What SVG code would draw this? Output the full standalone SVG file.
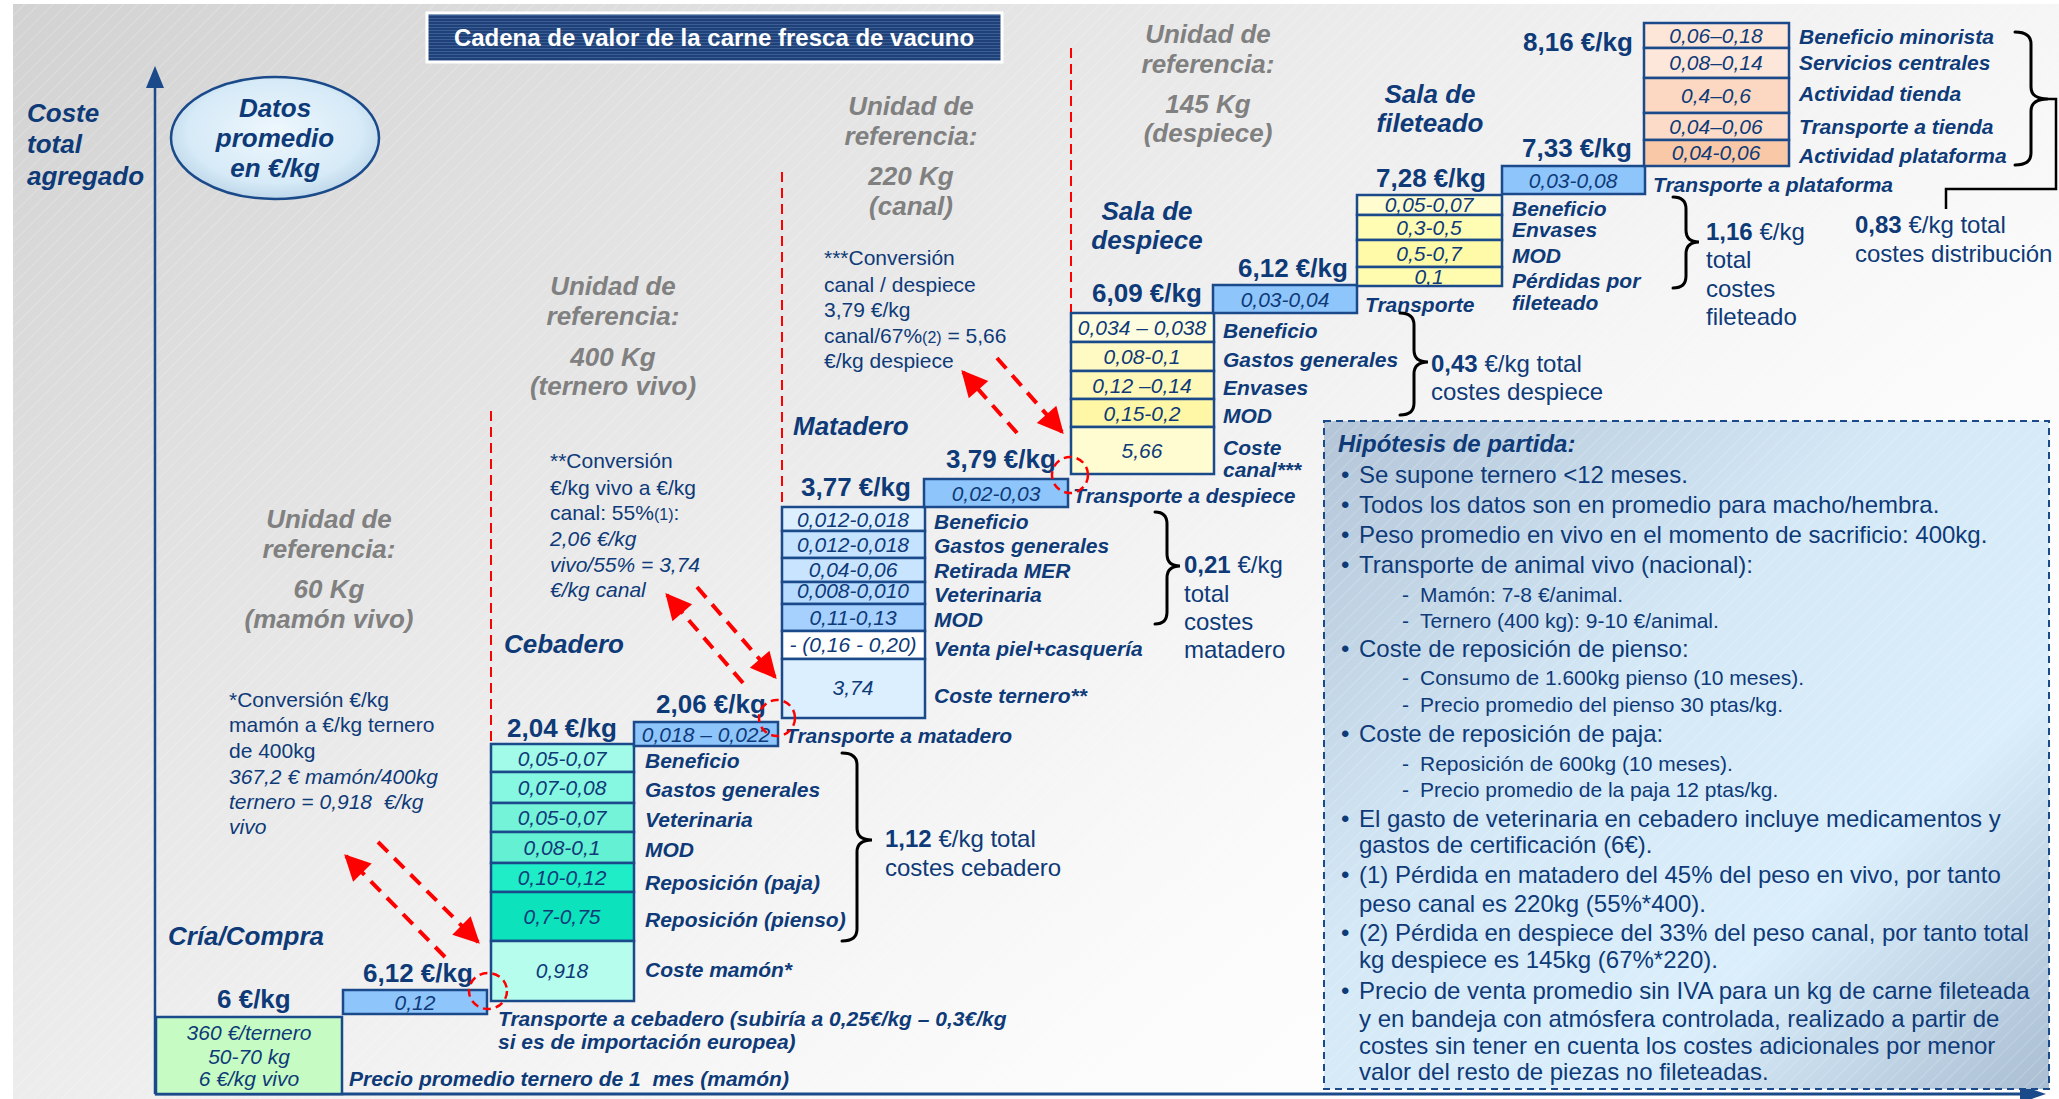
<svg xmlns="http://www.w3.org/2000/svg" width="2059" height="1099" viewBox="0 0 2059 1099">
<defs>
<linearGradient id="bg" x1="0" y1="0" x2="1" y2="0.7">
<stop offset="0" stop-color="#d2d2d2"/>
<stop offset="0.5" stop-color="#eeeeee"/>
<stop offset="0.8" stop-color="#fbfbfb"/>
<stop offset="1" stop-color="#ffffff"/>
</linearGradient>
<linearGradient id="hypfill" x1="0" y1="0" x2="1" y2="1">
<stop offset="0" stop-color="#b3c5d7"/>
<stop offset="0.4" stop-color="#d4e8f6"/>
<stop offset="0.7" stop-color="#daeefb"/>
<stop offset="1" stop-color="#a9bed2"/>
</linearGradient>
<radialGradient id="ellfill" cx="0.5" cy="0.45" r="0.6">
<stop offset="0" stop-color="#eef7fd"/>
<stop offset="0.7" stop-color="#d6eaf7"/>
<stop offset="1" stop-color="#b5d0e4"/>
</radialGradient>
<pattern id="hatch" width="10" height="10" patternUnits="userSpaceOnUse" patternTransform="rotate(45)">
<line x1="0" y1="0" x2="0" y2="10" stroke="#ffffff" stroke-width="1" stroke-opacity="0.4"/>
</pattern>
<pattern id="tlines" width="4" height="3" patternUnits="userSpaceOnUse">
<rect width="4" height="3" fill="#1f4177"/>
<line x1="0" y1="0.5" x2="4" y2="0.5" stroke="#3a5f96" stroke-width="1"/>
</pattern>
<marker id="rh" viewBox="0 0 10 10" refX="9" refY="5" markerWidth="7.5" markerHeight="6.5" orient="auto" markerUnits="strokeWidth">
<path d="M0,0 L10,5 L0,10 z" fill="#ff0000"/>
</marker>
<style>
.t{font-family:"Liberation Sans",Arial,sans-serif;fill:#0e3a78}
.sec{font-size:26px;font-weight:bold;font-style:italic}
.gray{font-size:26px;font-weight:bold;font-style:italic;fill:#808080;text-anchor:middle}
.price{font-size:26px;font-weight:bold}
.lab{font-size:21px;font-weight:bold;font-style:italic}
.val{font-size:21px;font-style:italic;text-anchor:middle}
.note{font-size:21px}
.tot{font-size:24px}
.hyp{font-size:24px}
.sub{font-size:21px}
.box{stroke:#1a4a8a;stroke-width:2.5}
.tr{fill:#8ec5fb}
.rdl{stroke:#ff0000;stroke-width:2;stroke-dasharray:10 6;fill:none}
.rarr{stroke:#ff0000;stroke-width:4;stroke-dasharray:14 9;fill:none;marker-end:url(#rh)}
.rell{stroke:#ff0000;stroke-width:2.5;stroke-dasharray:8 5;fill:none}
.brace{stroke:#000000;stroke-width:3;fill:none;stroke-linecap:round}
.axis{stroke:#1a4a8a;stroke-width:2.5;fill:none}
</style>
</defs>

<!-- background -->
<rect x="0" y="0" width="2059" height="1099" fill="#ffffff"/>
<rect x="13" y="4" width="2046" height="1095" fill="url(#bg)"/>
<rect x="13" y="4" width="2046" height="1095" fill="url(#hatch)"/>

<!-- title -->
<g id="title">
<rect x="427" y="13" width="575" height="49" fill="url(#tlines)" stroke="#ffffff" stroke-width="3"/>
<text x="714" y="46" text-anchor="middle" style="font-family:'Liberation Sans',Arial,sans-serif;font-size:24px;font-weight:bold;fill:#ffffff">Cadena de valor de la carne fresca de vacuno</text>
</g>

<!-- axes -->
<g id="axes">
<line class="axis" x1="155" y1="1094" x2="155" y2="82"/>
<polygon points="155,66 146,88 164,88" fill="#1a4a8a"/>
<line x1="155" y1="1094" x2="2024" y2="1094" stroke="#1a4a8a" stroke-width="3"/>
<polygon points="2046,1094 2020,1085 2020,1103" fill="#1a4a8a"/>
</g>

<g id="axis-label">
<text class="t sec" x="27" y="122">Coste</text>
<text class="t sec" x="27" y="153">total</text>
<text class="t sec" x="27" y="185">agregado</text>
</g>

<g id="datos-promedio">
<ellipse cx="275" cy="138" rx="104" ry="61" fill="url(#ellfill)" stroke="#1a4a8a" stroke-width="2.5"/>
<text class="t sec" x="275" y="117" text-anchor="middle">Datos</text>
<text class="t sec" x="275" y="147" text-anchor="middle">promedio</text>
<text class="t sec" x="275" y="177" text-anchor="middle">en €/kg</text>
</g>

<!-- reference units -->
<g id="ref-60">
<text class="t gray" x="329" y="528">Unidad de</text>
<text class="t gray" x="329" y="558">referencia:</text>
<text class="t gray" x="329" y="598">60 Kg</text>
<text class="t gray" x="329" y="628">(mamón vivo)</text>
</g>
<g id="ref-400">
<text class="t gray" x="613" y="295">Unidad de</text>
<text class="t gray" x="613" y="325">referencia:</text>
<text class="t gray" x="613" y="366">400 Kg</text>
<text class="t gray" x="613" y="395">(ternero vivo)</text>
</g>
<g id="ref-220">
<text class="t gray" x="911" y="115">Unidad de</text>
<text class="t gray" x="911" y="145">referencia:</text>
<text class="t gray" x="911" y="185">220 Kg</text>
<text class="t gray" x="911" y="215">(canal)</text>
</g>
<g id="ref-145">
<text class="t gray" x="1208" y="43">Unidad de</text>
<text class="t gray" x="1208" y="73">referencia:</text>
<text class="t gray" x="1208" y="113">145 Kg</text>
<text class="t gray" x="1208" y="142">(despiece)</text>
</g>

<!-- conversion notes -->
<g id="note-mamon">
<text class="t note" x="229" y="707">*Conversión €/kg</text>
<text class="t note" x="229" y="732">mamón a €/kg ternero</text>
<text class="t note" x="229" y="758">de 400kg</text>
<text class="t note" x="229" y="784" font-style="italic">367,2 € mamón/400kg</text>
<text class="t note" x="229" y="809" font-style="italic">ternero = 0,918 &#160;€/kg</text>
<text class="t note" x="229" y="834" font-style="italic">vivo</text>
</g>
<g id="note-ternero">
<text class="t note" x="550" y="468">**Conversión</text>
<text class="t note" x="550" y="495">€/kg vivo a €/kg</text>
<text class="t note" x="550" y="520">canal: 55%<tspan font-size="16px">(1)</tspan>:</text>
<text class="t note" x="550" y="546" font-style="italic">2,06 €/kg</text>
<text class="t note" x="550" y="572" font-style="italic">vivo/55% = 3,74</text>
<text class="t note" x="550" y="597" font-style="italic">€/kg canal</text>
</g>
<g id="note-canal">
<text class="t note" x="824" y="265">***Conversión</text>
<text class="t note" x="824" y="292">canal / despiece</text>
<text class="t note" x="824" y="317">3,79 €/kg</text>
<text class="t note" x="824" y="343">canal/67%<tspan font-size="16px">(2)</tspan> = 5,66</text>
<text class="t note" x="824" y="368">€/kg despiece</text>
</g>

<!-- Cría/Compra -->
<g id="cria">
<text class="t sec" x="168" y="945">Cría/Compra</text>
<text class="t price" x="217" y="1008">6 €/kg</text>
<rect class="box" x="156" y="1017" width="186" height="77" fill="#c6fbc3"/>
<text class="t val" x="249" y="1040">360 €/ternero</text>
<text class="t val" x="249" y="1064">50-70 kg</text>
<text class="t val" x="249" y="1086">6 €/kg vivo</text>
<text class="t lab" x="349" y="1086">Precio promedio ternero de 1 &#160;mes (mamón)</text>
</g>

<g id="transporte-cebadero">
<text class="t price" x="363" y="982">6,12 €/kg</text>
<rect class="box tr" x="343" y="990" width="144" height="24"/>
<text class="t val" x="415" y="1010">0,12</text>
<text class="t lab" x="498" y="1026">Transporte a cebadero (subiría a 0,25€/kg – 0,3€/kg</text>
<text class="t lab" x="498" y="1049">si es de importación europea)</text>
</g>

<!-- Cebadero -->
<g id="cebadero">
<text class="t sec" x="504" y="653">Cebadero</text>
<text class="t price" x="507" y="737">2,04 €/kg</text>
<rect class="box" x="491" y="744" width="143" height="28" fill="#a2fbe8"/>
<rect class="box" x="491" y="772" width="143" height="31" fill="#86f7e0"/>
<rect class="box" x="491" y="803" width="143" height="29" fill="#74f3d9"/>
<rect class="box" x="491" y="832" width="143" height="31" fill="#64f0d3"/>
<rect class="box" x="491" y="863" width="143" height="29" fill="#1eedc7"/>
<rect class="box" x="491" y="892" width="143" height="49" fill="#0ce3bd"/>
<rect class="box" x="491" y="941" width="143" height="60" fill="#b7fdee"/>
<text class="t val" x="562" y="766">0,05-0,07</text>
<text class="t val" x="562" y="795">0,07-0,08</text>
<text class="t val" x="562" y="825">0,05-0,07</text>
<text class="t val" x="562" y="855">0,08-0,1</text>
<text class="t val" x="562" y="885">0,10-0,12</text>
<text class="t val" x="562" y="924">0,7-0,75</text>
<text class="t val" x="562" y="978">0,918</text>
<text class="t lab" x="645" y="768">Beneficio</text>
<text class="t lab" x="645" y="797">Gastos generales</text>
<text class="t lab" x="645" y="827">Veterinaria</text>
<text class="t lab" x="645" y="857">MOD</text>
<text class="t lab" x="645" y="890">Reposición (paja)</text>
<text class="t lab" x="645" y="927">Reposición (pienso)</text>
<text class="t lab" x="645" y="977">Coste mamón*</text>
<text class="t tot" x="885" y="847"><tspan font-weight="bold">1,12</tspan> €/kg total</text>
<text class="t tot" x="885" y="876">costes cebadero</text>
</g>

<g id="transporte-matadero">
<text class="t price" x="656" y="713">2,06 €/kg</text>
<rect class="box tr" x="634" y="722" width="144" height="24"/>
<text class="t val" x="706" y="742">0,018 – 0,022</text>
<text class="t lab" x="785" y="743">Transporte a matadero</text>
</g>

<!-- Matadero -->
<g id="matadero">
<text class="t sec" x="793" y="435">Matadero</text>
<text class="t price" x="801" y="496">3,77 €/kg</text>
<rect class="box" x="782" y="507" width="143" height="24" fill="#dcefff"/>
<rect class="box" x="782" y="531" width="143" height="27" fill="#c5e3ff"/>
<rect class="box" x="782" y="558" width="143" height="24" fill="#c8e4ff"/>
<rect class="box" x="782" y="582" width="143" height="22" fill="#b7daff"/>
<rect class="box" x="782" y="604" width="143" height="27" fill="#a6d1ff"/>
<rect class="box" x="782" y="631" width="143" height="28" fill="#ffffff"/>
<rect class="box" x="782" y="659" width="143" height="59" fill="#dcefff"/>
<text class="t val" x="853" y="527">0,012-0,018</text>
<text class="t val" x="853" y="552">0,012-0,018</text>
<text class="t val" x="853" y="577">0,04-0,06</text>
<text class="t val" x="853" y="598" font-size="16px">0,008-0,010</text>
<text class="t val" x="853" y="625">0,11-0,13</text>
<text class="t val" x="853" y="652">- (0,16 - 0,20)</text>
<text class="t val" x="853" y="695">3,74</text>
<text class="t lab" x="934" y="529">Beneficio</text>
<text class="t lab" x="934" y="553">Gastos generales</text>
<text class="t lab" x="934" y="578">Retirada MER</text>
<text class="t lab" x="934" y="602">Veterinaria</text>
<text class="t lab" x="934" y="627">MOD</text>
<text class="t lab" x="934" y="656">Venta piel+casquería</text>
<text class="t lab" x="934" y="703">Coste ternero**</text>
<text class="t tot" x="1184" y="573"><tspan font-weight="bold">0,21</tspan> €/kg</text>
<text class="t tot" x="1184" y="602">total</text>
<text class="t tot" x="1184" y="630">costes</text>
<text class="t tot" x="1184" y="658">matadero</text>
</g>

<g id="transporte-despiece">
<text class="t price" x="946" y="468">3,79 €/kg</text>
<rect class="box tr" x="924" y="479" width="144" height="28"/>
<text class="t val" x="996" y="501" font-style="normal">0,02-0,03</text>
<text class="t lab" x="1073" y="503">Transporte a despiece</text>
</g>

<!-- Sala de despiece -->
<g id="despiece">
<text class="t sec" x="1147" y="220" text-anchor="middle">Sala de</text>
<text class="t sec" x="1147" y="249" text-anchor="middle">despiece</text>
<text class="t price" x="1092" y="302">6,09 €/kg</text>
<rect class="box" x="1071" y="313" width="143" height="29" fill="#fffde0"/>
<rect class="box" x="1071" y="342" width="143" height="29" fill="#fffac4"/>
<rect class="box" x="1071" y="371" width="143" height="28" fill="#fff8b8"/>
<rect class="box" x="1071" y="399" width="143" height="28" fill="#fff7a6"/>
<rect class="box" x="1071" y="427" width="143" height="47" fill="#fffcd2"/>
<text class="t val" x="1142" y="335">0,034 – 0,038</text>
<text class="t val" x="1142" y="364">0,08-0,1</text>
<text class="t val" x="1142" y="393">0,12 –0,14</text>
<text class="t val" x="1142" y="421">0,15-0,2</text>
<text class="t val" x="1142" y="458">5,66</text>
<text class="t lab" x="1223" y="338">Beneficio</text>
<text class="t lab" x="1223" y="367">Gastos generales</text>
<text class="t lab" x="1223" y="395">Envases</text>
<text class="t lab" x="1223" y="423">MOD</text>
<text class="t lab" x="1223" y="455">Coste</text>
<text class="t lab" x="1223" y="477">canal***</text>
<text class="t tot" x="1431" y="372"><tspan font-weight="bold">0,43</tspan> €/kg total</text>
<text class="t tot" x="1431" y="400">costes despiece</text>
</g>

<g id="transporte-fileteado">
<text class="t price" x="1238" y="277">6,12 €/kg</text>
<rect class="box tr" x="1213" y="285" width="144" height="28"/>
<text class="t val" x="1285" y="307">0,03-0,04</text>
<text class="t lab" x="1365" y="312">Transporte</text>
</g>

<!-- Sala de fileteado -->
<g id="fileteado">
<text class="t sec" x="1430" y="103" text-anchor="middle">Sala de</text>
<text class="t sec" x="1430" y="132" text-anchor="middle">fileteado</text>
<text class="t price" x="1376" y="187">7,28 €/kg</text>
<rect class="box" x="1357" y="195" width="145" height="20" fill="#fffdd0"/>
<rect class="box" x="1357" y="215" width="145" height="25" fill="#fffcb4"/>
<rect class="box" x="1357" y="240" width="145" height="27" fill="#fffaa8"/>
<rect class="box" x="1357" y="267" width="145" height="19" fill="#fffcb0"/>
<text class="t val" x="1429" y="212">0,05-0,07</text>
<text class="t val" x="1429" y="235">0,3-0,5</text>
<text class="t val" x="1429" y="261">0,5-0,7</text>
<text class="t val" x="1429" y="284">0,1</text>
<text class="t lab" x="1512" y="216">Beneficio</text>
<text class="t lab" x="1512" y="237">Envases</text>
<text class="t lab" x="1512" y="263">MOD</text>
<text class="t lab" x="1512" y="288">Pérdidas por</text>
<text class="t lab" x="1512" y="310">fileteado</text>
<text class="t tot" x="1706" y="240"><tspan font-weight="bold">1,16</tspan> €/kg</text>
<text class="t tot" x="1706" y="268">total</text>
<text class="t tot" x="1706" y="297">costes</text>
<text class="t tot" x="1706" y="325">fileteado</text>
</g>

<g id="transporte-plataforma">
<text class="t price" x="1522" y="157">7,33 €/kg</text>
<rect class="box tr" x="1502" y="166" width="143" height="28"/>
<text class="t val" x="1573" y="188">0,03-0,08</text>
<text class="t lab" x="1653" y="192">Transporte a plataforma</text>
</g>

<!-- Distribución -->
<g id="distribucion">
<text class="t price" x="1523" y="51">8,16 €/kg</text>
<rect class="box" x="1644" y="23" width="145" height="25" fill="#fde6d8"/>
<rect class="box" x="1644" y="48" width="145" height="30" fill="#fde7da"/>
<rect class="box" x="1644" y="78" width="145" height="35" fill="#fcd8c2"/>
<rect class="box" x="1644" y="113" width="145" height="27" fill="#fcdcc8"/>
<rect class="box" x="1644" y="140" width="145" height="26" fill="#f9c8a6"/>
<text class="t val" x="1716" y="43">0,06–0,18</text>
<text class="t val" x="1716" y="70">0,08–0,14</text>
<text class="t val" x="1716" y="103">0,4–0,6</text>
<text class="t val" x="1716" y="134">0,04–0,06</text>
<text class="t val" x="1716" y="160">0,04-0,06</text>
<text class="t lab" x="1799" y="44">Beneficio minorista</text>
<text class="t lab" x="1799" y="70">Servicios centrales</text>
<text class="t lab" x="1799" y="101">Actividad tienda</text>
<text class="t lab" x="1799" y="134">Transporte a tienda</text>
<text class="t lab" x="1799" y="163">Actividad plataforma</text>
<text class="t tot" x="1855" y="233"><tspan font-weight="bold">0,83</tspan> €/kg total</text>
<text class="t tot" x="1855" y="262">costes distribución</text>
</g>

<!-- Hipótesis -->
<g id="hipotesis">
<rect x="1324" y="421" width="725" height="668" fill="url(#hypfill)"/>
<rect x="1324" y="421" width="725" height="668" fill="url(#hatch)"/>
<rect x="1324" y="421" width="725" height="668" fill="none" stroke="#1a4a8a" stroke-width="2" stroke-dasharray="7 5"/>
<text class="t hyp" x="1338" y="452" font-weight="bold" font-style="italic">Hipótesis de partida:</text>
<g class="t hyp">
<text x="1341" y="483">•</text><text x="1359" y="483">Se supone ternero &lt;12 meses.</text>
<text x="1341" y="513">•</text><text x="1359" y="513">Todos los datos son en promedio para macho/hembra.</text>
<text x="1341" y="543">•</text><text x="1359" y="543">Peso promedio en vivo en el momento de sacrificio: 400kg.</text>
<text x="1341" y="573">•</text><text x="1359" y="573">Transporte de animal vivo (nacional):</text>
<text x="1341" y="657">•</text><text x="1359" y="657">Coste de reposición de pienso:</text>
<text x="1341" y="742">•</text><text x="1359" y="742">Coste de reposición de paja:</text>
<text x="1341" y="827">•</text><text x="1359" y="827">El gasto de veterinaria en cebadero incluye medicamentos y</text>
<text x="1359" y="853">gastos de certificación (6€).</text>
<text x="1341" y="883">•</text><text x="1359" y="883">(1) Pérdida en matadero del 45% del peso en vivo, por tanto</text>
<text x="1359" y="912">peso canal es 220kg (55%*400).</text>
<text x="1341" y="941">•</text><text x="1359" y="941">(2) Pérdida en despiece del 33% del peso canal, por tanto total</text>
<text x="1359" y="968">kg despiece es 145kg (67%*220).</text>
<text x="1341" y="999">•</text><text x="1359" y="999">Precio de venta promedio sin IVA para un kg de carne fileteada</text>
<text x="1359" y="1027">y en bandeja con atmósfera controlada, realizado a partir de</text>
<text x="1359" y="1054">costes sin tener en cuenta los costes adicionales por menor</text>
<text x="1359" y="1080">valor del resto de piezas no fileteadas.</text>
</g>
<g class="t sub">
<text x="1402" y="602">-</text><text x="1420" y="602">Mamón: 7-8 €/animal.</text>
<text x="1402" y="628">-</text><text x="1420" y="628">Ternero (400 kg): 9-10 €/animal.</text>
<text x="1402" y="685">-</text><text x="1420" y="685">Consumo de 1.600kg pienso (10 meses).</text>
<text x="1402" y="712">-</text><text x="1420" y="712">Precio promedio del pienso 30 ptas/kg.</text>
<text x="1402" y="771">-</text><text x="1420" y="771">Reposición de 600kg (10 meses).</text>
<text x="1402" y="797">-</text><text x="1420" y="797">Precio promedio de la paja 12 ptas/kg.</text>
</g>
</g>

<!-- connectors -->
<g id="connectors">
<line class="rdl" x1="491" y1="411" x2="491" y2="743"/>
<line class="rdl" x1="782" y1="172" x2="782" y2="505"/>
<line class="rdl" x1="1071" y1="48" x2="1071" y2="312"/>
<line class="rarr" x1="445" y1="957" x2="346" y2="856"/>
<line class="rarr" x1="378" y1="842" x2="478" y2="942"/>
<line class="rarr" x1="743" y1="683" x2="667" y2="595"/>
<line class="rarr" x1="697" y1="587" x2="775" y2="677"/>
<line class="rarr" x1="1017" y1="433" x2="963" y2="372"/>
<line class="rarr" x1="997" y1="358" x2="1062" y2="432"/>
<ellipse class="rell" cx="488" cy="991" rx="19" ry="18"/>
<ellipse class="rell" cx="777" cy="718" rx="18" ry="18"/>
<ellipse class="rell" cx="1070" cy="475" rx="18" ry="18"/>
<path class="brace" d="M842,753 Q857,753 857,765 L857,828 Q857,840 872,840 Q857,840 857,852 L857,929 Q857,941 842,941"/>
<path class="brace" d="M1155,512 Q1167,512 1167,524 L1167,554 Q1167,566 1180,566 Q1167,566 1167,578 L1167,612 Q1167,624 1155,624"/>
<path class="brace" d="M1400,313 Q1414,313 1414,325 L1414,350 Q1414,362 1428,362 Q1414,362 1414,374 L1414,403 Q1414,415 1400,415"/>
<path class="brace" d="M1673,197 Q1686,197 1686,209 L1686,230 Q1686,242 1699,242 Q1686,242 1686,254 L1686,276 Q1686,288 1673,288"/>
<path class="brace" d="M2015,32 Q2031,32 2031,44 L2031,87 Q2031,99 2048,99 Q2031,99 2031,111 L2031,153 Q2031,165 2015,165"/>
<polyline points="2048,99 2056,99 2056,189 1946,189 1946,209" fill="none" stroke="#000000" stroke-width="2.5"/>
</g>
</svg>
